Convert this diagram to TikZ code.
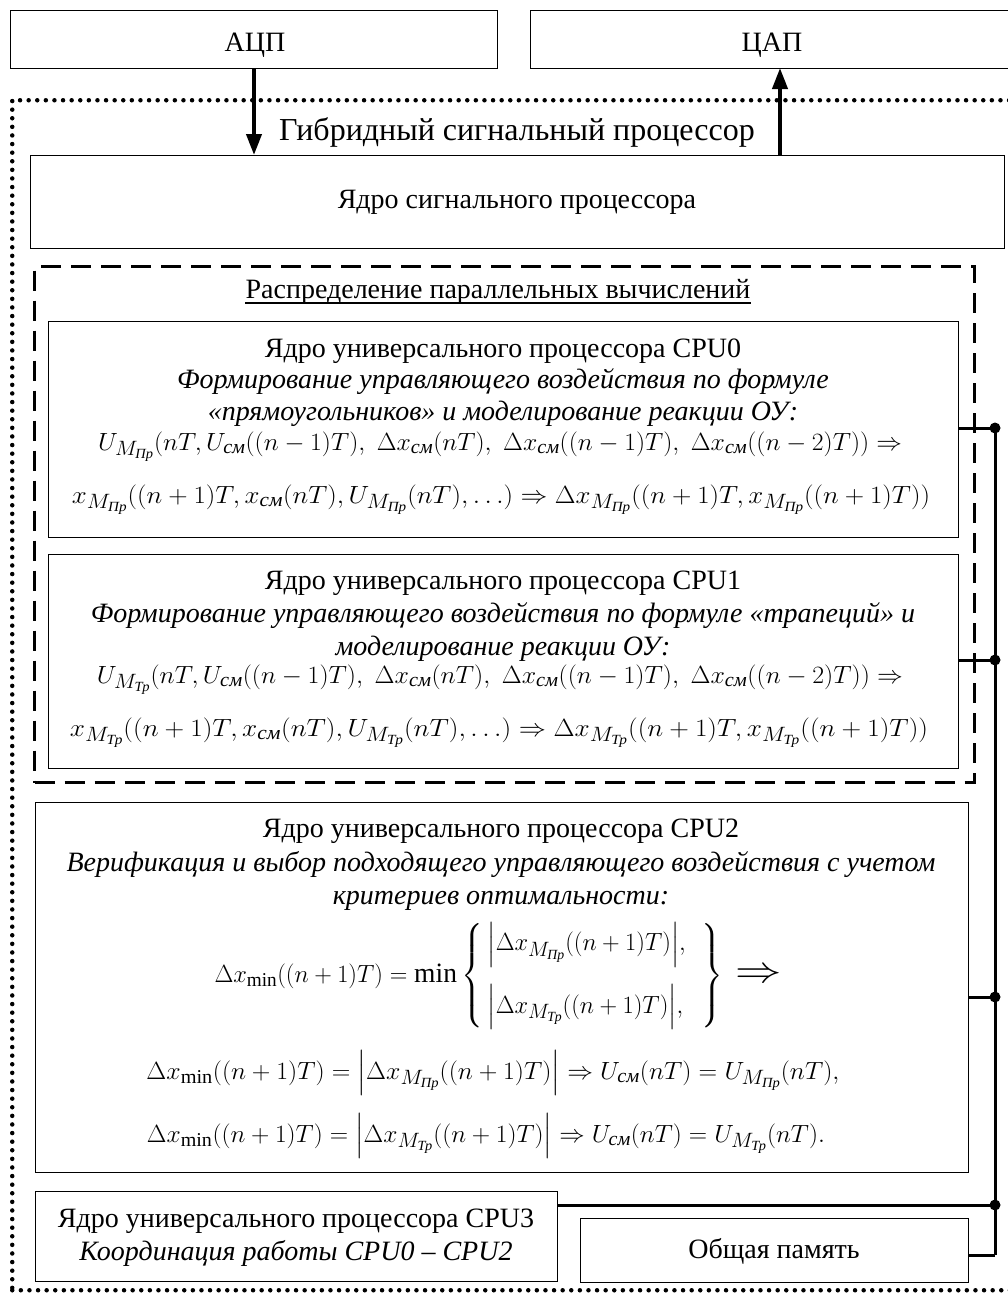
\documentclass[tikz,border=0pt]{standalone}
\usepackage{amsmath}
\usepackage{graphicx}
\usepackage{fontspec}
\setmainfont{Liberation Serif}
\usetikzlibrary{arrows.meta}
\newcommand{\cy}[1]{\text{\itshape #1}}
\newcommand{\MPr}{M_{\cy{Пр}}}
\newcommand{\MTr}{M_{\cy{Тр}}}
\newcommand{\csm}{\cy{см}}
\newcommand{\mn}{\text{\upshape min}}
\newcommand{\fw}[2]{\resizebox{#1}{\height}{#2}}
\begin{document}
\begin{tikzpicture}[x=1pt,y=-1pt,
  box/.style={draw, line width=1pt, inner sep=0pt, anchor=north west},
  txt/.style={anchor=base, inner sep=0pt, font=\fontsize{28}{32}\selectfont},
  ital/.style={anchor=base, inner sep=0pt, font=\fontsize{28}{32}\selectfont\itshape},
  frm/.style={anchor=base, inner sep=0pt, font=\fontsize{28}{32}\selectfont},
  bus/.style={line width=3pt},
  busdot/.style={circle, fill, inner sep=0pt, minimum size=11pt},
  sigarrow/.style={line width=4pt, -{Triangle[length=21pt,width=15pt]}},
  outer/.style={draw, line width=4.5pt, dash pattern=on 0pt off 8.6pt, line cap=round, inner sep=0pt, anchor=north west},
  dashbox/.style={draw, line width=3pt, dash pattern=on 20pt off 10pt, inner sep=0pt, anchor=north west}
]
\useasboundingbox (0,0) rectangle (1007,1296);
% top converters
\node[box, minimum width=487pt, minimum height=58pt] (adc) at (10,10) {};
\node[txt] (adct) at (255,51) {АЦП};
\node[box, minimum width=490pt, minimum height=58pt] (dac) at (530,10) {};
\node[txt] (dact) at (772,51) {ЦАП};
% hybrid processor boundary
\node[outer, minimum width=1030pt, minimum height=1190pt] (hsp) at (10,98) {};
\node[txt, font=\fontsize{32}{36}\selectfont] (hspt) at (517,140) {Гибридный сигнальный процессор};
% signal processor core
\node[box, minimum width=974pt, minimum height=93pt] (sig) at (30,155) {};
\node[txt] (sigt) at (517,208) {Ядро сигнального процессора};
\coordinate (dacin) at (780,68);
\draw[sigarrow] (adc.south) -- (adc.south |- sig.north);
\draw[sigarrow] (dacin |- sig.north) -- (dacin);
% parallel computing group
\node[dashbox, minimum width=940pt, minimum height=516pt] (par) at (33,265) {};
\node[txt] (part) at (498,298) {Распределение параллельных вычислений};
\draw[line width=1.2pt] ([yshift=-5pt]part.base west) -- ([yshift=-5pt]part.base east);
% CPU0
\node[box, minimum width=910pt, minimum height=216pt] (cpu0) at (48,321) {};
\node[txt] (c0a) at (503,357) {Ядро универсального процессора CPU0};
\node[ital] (c0b) at (503,388) {Формирование управляющего воздействия по формуле};
\node[ital] (c0c) at (503,420) {«прямоугольников» и моделирование реакции ОУ:};
\node[frm] (c0d) at (500,450) {\fw{804pt}{$U_{\MPr}(nT, U_{\csm}((n-1)T),\ \Delta x_{\csm}(nT),\ \Delta x_{\csm}((n-1)T),\ \Delta x_{\csm}((n-2)T))\Rightarrow$}};
\node[frm] (c0e) at (501,503) {\fw{858pt}{$x_{\MPr}((n+1)T, x_{\csm}(nT), U_{\MPr}(nT), \ldots)\Rightarrow \Delta x_{\MPr}((n+1)T, x_{\MPr}((n+1)T))$}};
% CPU1
\node[box, minimum width=910pt, minimum height=214pt] (cpu1) at (48,554) {};
\node[txt] (c1a) at (503,589) {Ядро универсального процессора CPU1};
\node[ital] (c1b) at (503,622) {Формирование управляющего воздействия по формуле «трапеций» и};
\node[ital] (c1c) at (503,655) {моделирование реакции ОУ:};
\node[frm] (c1d) at (500,683) {\fw{806pt}{$U_{\MTr}(nT, U_{\csm}((n-1)T),\ \Delta x_{\csm}(nT),\ \Delta x_{\csm}((n-1)T),\ \Delta x_{\csm}((n-2)T))\Rightarrow$}};
\node[frm] (c1e) at (499,736) {\fw{858pt}{$x_{\MTr}((n+1)T, x_{\csm}(nT), U_{\MTr}(nT), \ldots)\Rightarrow \Delta x_{\MTr}((n+1)T, x_{\MTr}((n+1)T))$}};
% CPU2
\node[box, minimum width=933pt, minimum height=370pt] (cpu2) at (35,802) {};
\node[txt] (c2a) at (501,837) {Ядро универсального процессора CPU2};
\node[ital] (c2b) at (501,871) {Верификация и выбор подходящего управляющего воздействия с учетом};
\node[ital] (c2c) at (501,904) {критериев оптимальности:};
\node[frm] (c2d) at (498,982) {\fw{567pt}{$\Delta x_{\mn}((n+1)T) = \mn\left\{\begin{array}{l@{\hspace{16pt}}}
  \Bigl|\Delta x_{\MPr}((n+1)T)\Bigr|,\\[24pt]
  \Bigl|\Delta x_{\MTr}((n+1)T)\Bigr|,
  \end{array}\right\}\hspace{8pt}\scalebox{1.9}[1.5]{$\Rightarrow$}$}};
\node[frm] (c2e) at (493,1079) {\fw{693pt}{$\Delta x_{\mn}((n+1)T) = \Bigl|\Delta x_{\MPr}((n+1)T)\Bigr|\Rightarrow U_{\csm}(nT) = U_{\MPr}(nT),$}};
\node[frm] (c2f) at (486,1142) {\fw{678pt}{$\Delta x_{\mn}((n+1)T) = \Bigl|\Delta x_{\MTr}((n+1)T)\Bigr|\Rightarrow U_{\csm}(nT) = U_{\MTr}(nT).$}};
% CPU3 and memory
\node[box, minimum width=522pt, minimum height=90pt] (cpu3) at (35,1191) {};
\node[txt] (c3a) at (296,1227) {Ядро универсального процессора CPU3};
\node[ital] (c3b) at (296,1260) {Координация работы CPU0 – CPU2};
\node[box, minimum width=388pt, minimum height=64pt] (mem) at (580,1218) {};
\node[txt] (memt) at (774,1258) {Общая память};
% shared bus
\coordinate (b0) at (995,428);
\coordinate (b1) at (995,660);
\coordinate (b2) at (995,997);
\coordinate (b3) at (995,1205);
\coordinate (b4) at (995,1255);
\draw[bus] (b0) -- (b4);
\draw[bus] (cpu0.east |- b0) -- (b0);
\draw[bus] (cpu1.east |- b1) -- (b1);
\draw[bus] (cpu2.east |- b2) -- (b2);
\draw[bus] (cpu3.east |- b3) -- (b3);
\draw[bus] (mem.east |- b4) -- (b4);
\node[busdot] (d0) at (b0) {};
\node[busdot] (d1) at (b1) {};
\node[busdot] (d2) at (b2) {};
\node[busdot] (d3) at (b3) {};
\end{tikzpicture}
\end{document}
